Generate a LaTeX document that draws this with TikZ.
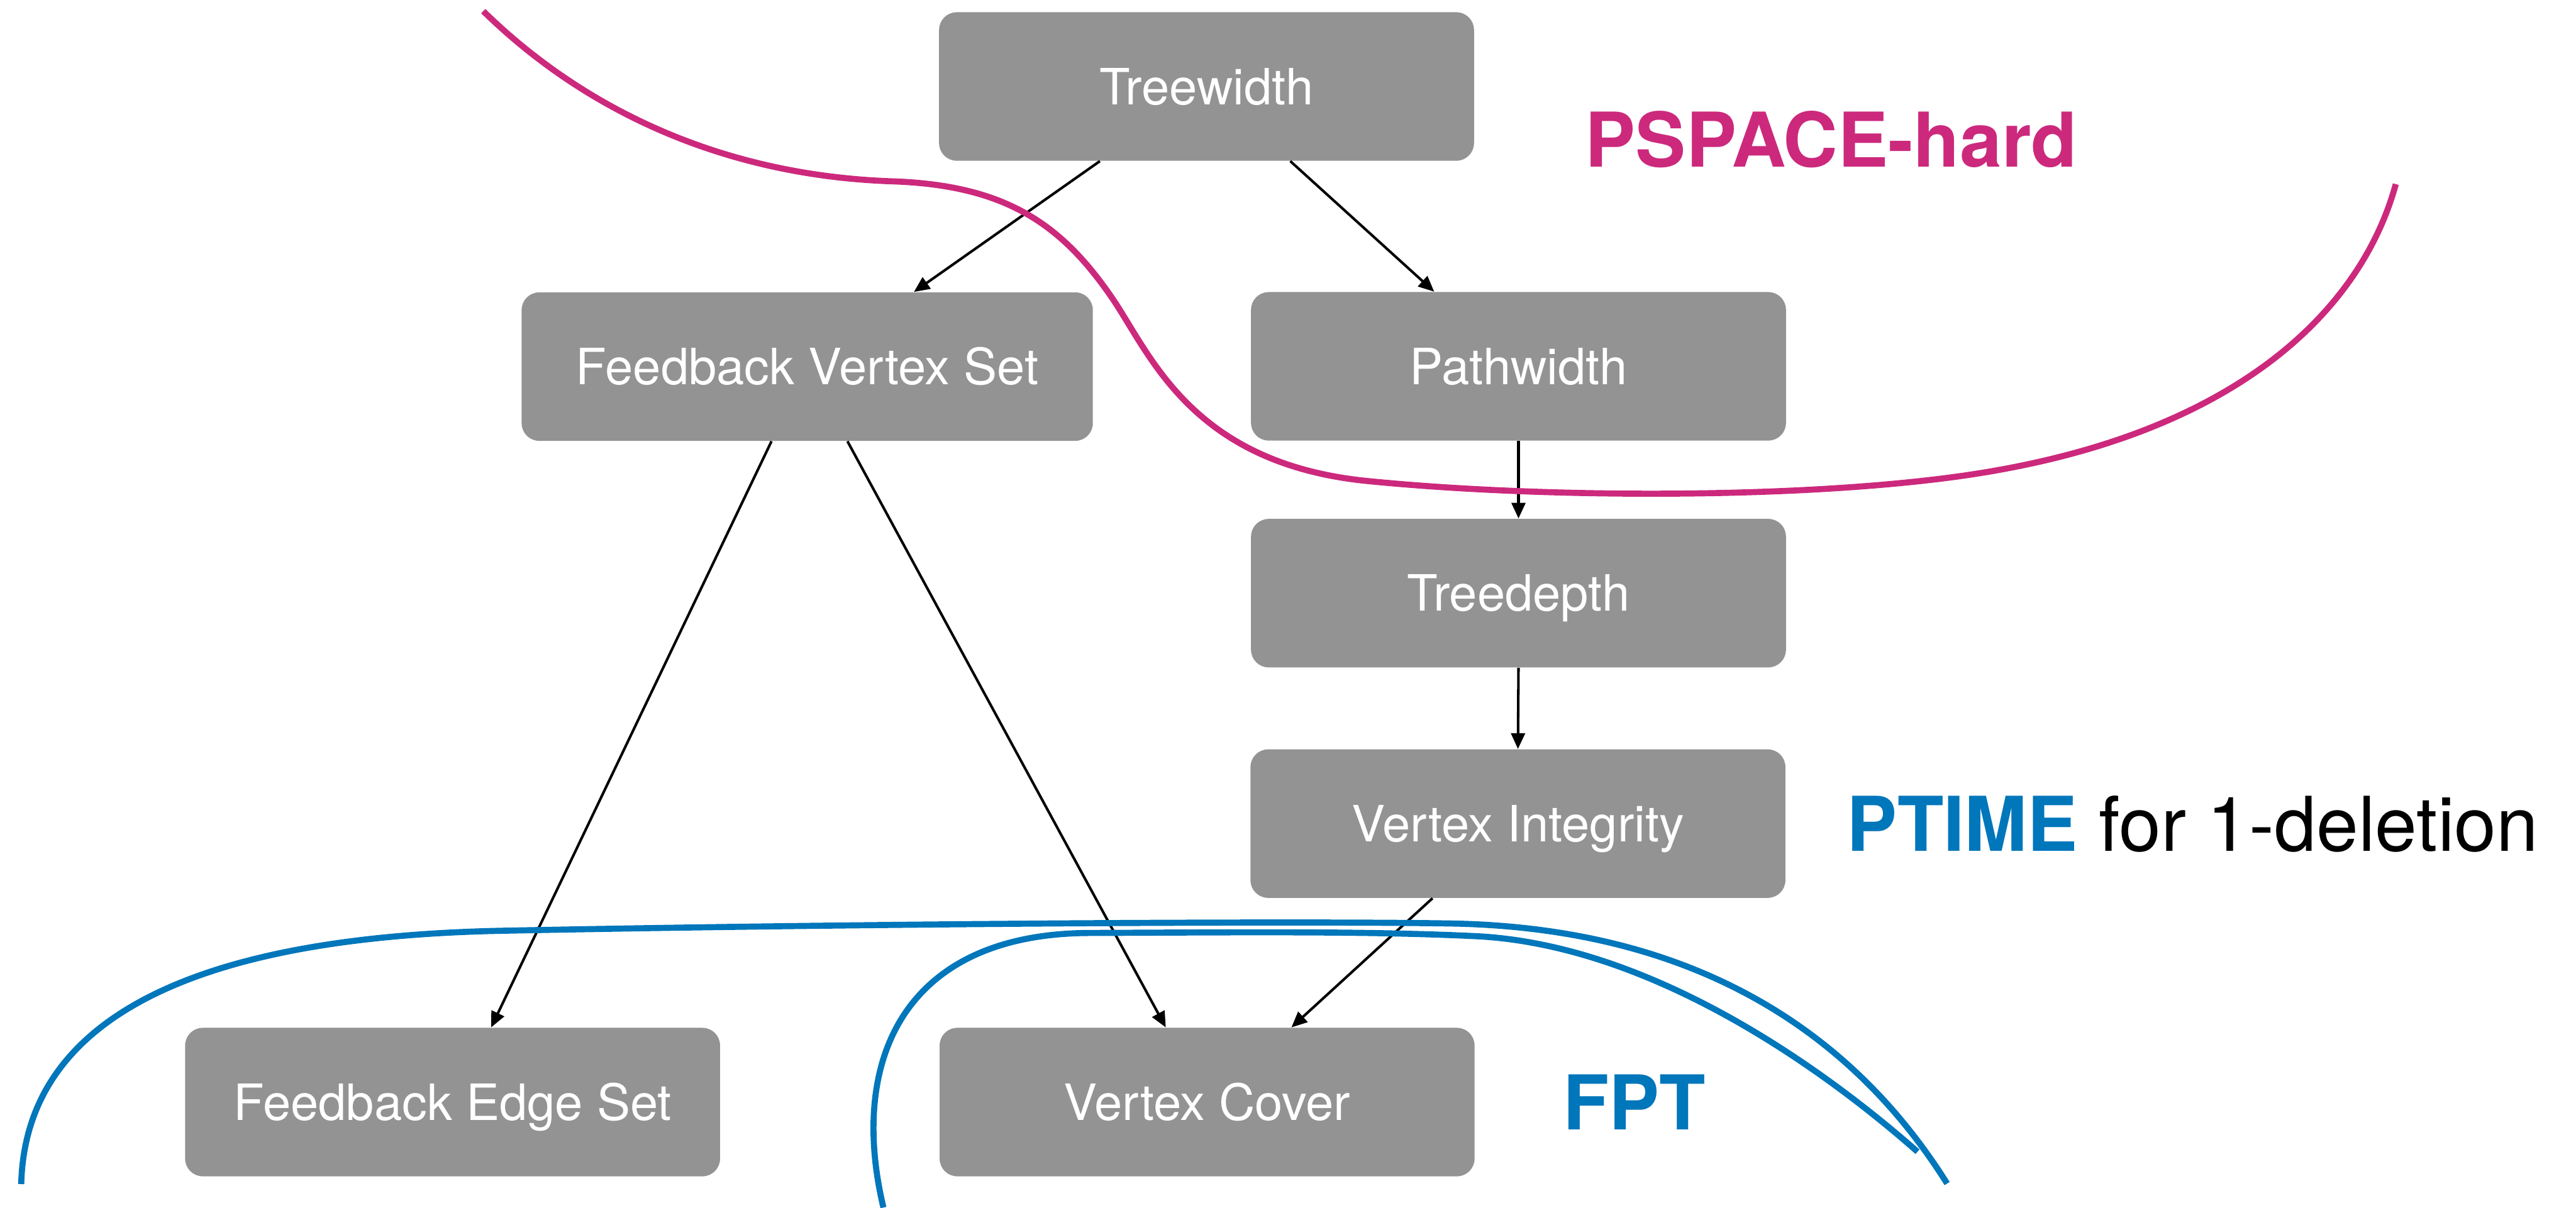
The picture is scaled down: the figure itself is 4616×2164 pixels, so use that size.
\documentclass[tikz,border=0pt]{standalone}
\usepackage{fontspec}
\usetikzlibrary{arrows.meta}
\newfontfamily\heros{TeX Gyre Heros}
\definecolor{boxgray}{RGB}{147,147,147}
\definecolor{hardmag}{RGB}{204,41,125}
\definecolor{fptblue}{RGB}{0,118,187}
\tikzset{
  param/.style={fill=boxgray, rounded corners=9pt, inner sep=0pt,
    minimum width=9.58cm, minimum height=2.66cm, text=white,
    font=\heros\fontsize{25.5}{30}\selectfont, text height=18.3pt, text depth=0pt},
  implies/.style={draw=black, line width=1.3pt, -{Triangle[length=8pt,width=7pt]}},
  hardline/.style={draw=hardmag, line width=3.1pt},
  easyline/.style={draw=fptblue, line width=3.1pt},
  classlabel/.style={anchor=base west, inner sep=0pt,
    font=\heros\fontsize{38.5}{46}\selectfont}
}
\begin{document}
\begin{tikzpicture}[x=0.01cm, y=-0.01cm]
\useasboundingbox (0,0) rectangle (4616,2164);

% parameter boxes
\node[param] (tw)  at (2162,155)    {Treewidth};
\node[param, minimum width=10.23cm] (fvs) at (1446.5,657) {Feedback Vertex Set};
\node[param] (pw)  at (2721,656.5)  {Pathwidth};
\node[param] (td)  at (2721,1063)   {Treedepth};
\node[param] (vi)  at (2720,1476)   {Vertex Integrity};
\node[param] (fes) at (811,1975)    {Feedback Edge Set};
\node[param] (vc)  at (2163,1975)   {Vertex Cover};

% implications between parameters
\draw[implies] ([xshift=-1.91cm]tw.south) -- ([xshift=1.91cm]fvs.north);
\draw[implies] ([xshift=1.50cm]tw.south) -- ([xshift=-1.51cm]pw.north);
\draw[implies] (pw.south) -- (td.north);
\draw[implies] (td.south) -- (vi.north);
\draw[implies] ([xshift=-1.53cm]vi.south) -- ([xshift=1.51cm]vc.north);
\draw[implies] ([xshift=-0.64cm]fvs.south) -- ([xshift=0.69cm]fes.north);
\draw[implies] ([xshift=0.72cm]fvs.south) -- ([xshift=-0.74cm]vc.north);

% PSPACE-hard boundary
\draw[hardline] (866,20)
  .. controls (1050,200) and (1300,315) .. (1600,325)
  .. controls (1800,332) and (1900,400) .. (1990,530)
  .. controls (2060,630) and (2130,830) .. (2450,862)
  .. controls (2750,892) and (3200,895) .. (3500,855)
  .. controls (4000,788) and (4230,560) .. (4293,330);

% FPT boundaries
\draw[easyline] (38,2122)
  .. controls (45,1850) and (300,1680) .. (900,1668)
  .. controls (1500,1656) and (2300,1650) .. (2600,1655)
  .. controls (3000,1662) and (3300,1820) .. (3489,2121);

\draw[easyline] (1583,2164)
  .. controls (1520,1900) and (1620,1674) .. (1950,1672)
  .. controls (2200,1671) and (2450,1668) .. (2650,1678)
  .. controls (2950,1695) and (3250,1900) .. (3436,2064);

% class labels
\node[classlabel, text=hardmag] (pspace) at (2840,299) {\bfseries PSPACE-hard};
\node[classlabel] (ptime) at (3309,1525) {\textcolor{fptblue}{\bfseries PTIME} for 1-deletion};
\node[classlabel, text=fptblue] (fpt) at (2800,2025) {\bfseries FPT};
\end{tikzpicture}
\end{document}
